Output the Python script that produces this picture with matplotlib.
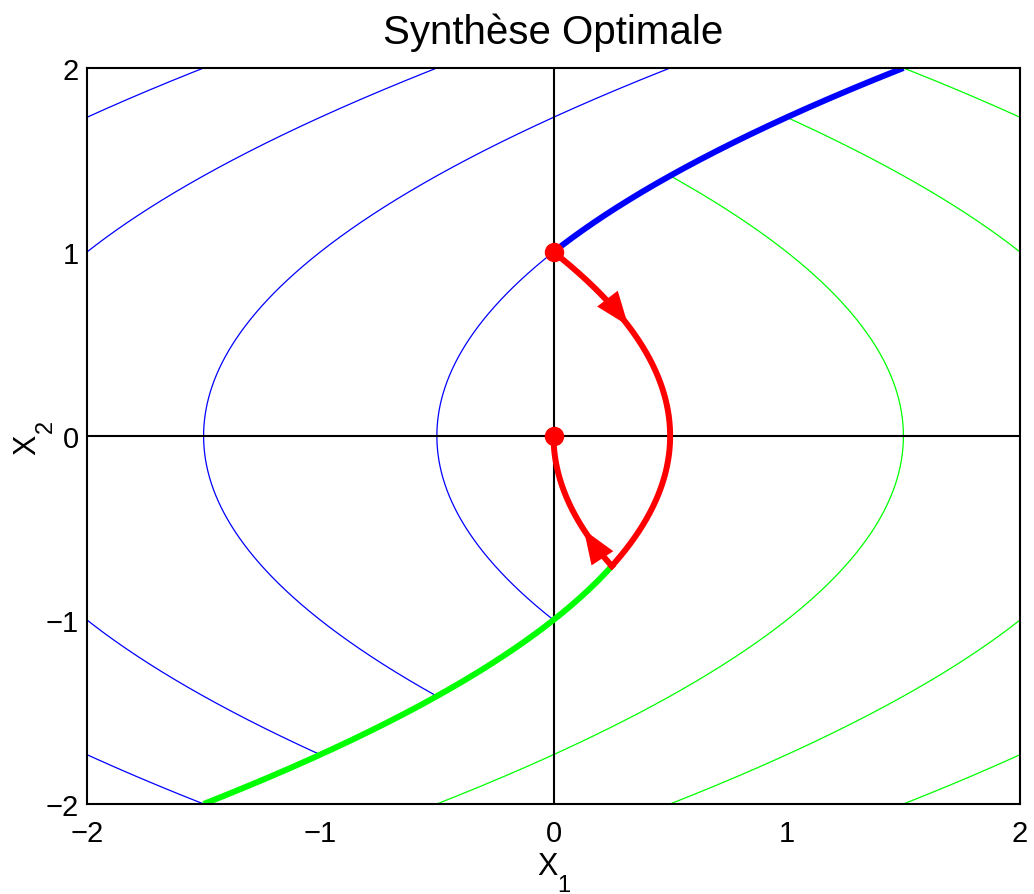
import numpy as np
import matplotlib
matplotlib.use("Agg")
import matplotlib.pyplot as plt
from matplotlib.patches import Polygon

plt.rcParams['font.family'] = ['Liberation Sans', 'DejaVu Sans']

# Parabola constants for thin trajectories
blue_c = [-3.5, -2.5, -1.5, -0.5]     # u=+1 : x1 = c + x2^2/2
green_c = [0.5, 1.5, 2.5, 3.5]        # u=-1 : x1 = c - x2^2/2
# Switching curve pieces
blue_switch_c, blue_switch_x2 = -0.5, (1.0, 2.0)
green_switch_c, green_switch_x2 = 0.5, (-2.0, -0.7071)
# Optimal trajectory: green arc then blue arc
red_arc1_c, red_arc1_x2 = 0.5, (1.0, -0.7071)
red_arc2_c, red_arc2_x2 = 0.0, (-0.7071, 0.0)
red_points_x1 = [0.0, 0.0]
red_points_x2 = [1.0, 0.0]
arrow_tip_x2 = [0.60, -0.51]
arrow_back_x2 = [0.61, -0.52]   # a point just behind the tip (gives direction)
ticks = [-2, -1, 0, 1, 2]

W, H = 1034, 895


def switch(x2):
    s = np.zeros_like(x2)
    s = np.where(x2 >= 1, -0.5 + x2**2 / 2, s)
    s = np.where(x2 <= -1, 0.5 - x2**2 / 2, s)
    return s


fig = plt.figure(figsize=(W / 100, H / 100), dpi=100)
ax = fig.add_axes([0.0841, 0.1006, 0.9024, 0.8223])
ax.set_xlim(-2, 2)
ax.set_ylim(-2, 2)

x2 = np.linspace(-2, 2, 2001)
sw = switch(x2)
for c in blue_c:
    x1 = c + x2**2 / 2
    m = x1 <= sw + 1e-9
    ax.plot(np.where(m, x1, np.nan), x2, color=(0, 0, 1), lw=0.9)
for c in green_c:
    x1 = c - x2**2 / 2
    m = x1 >= sw - 1e-9
    ax.plot(np.where(m, x1, np.nan), x2, color=(0, 1, 0), lw=0.9)

ax.axhline(0, color='k', lw=1.5)
ax.axvline(0, color='k', lw=1.5)

thick = 4.3
t = np.linspace(*blue_switch_x2, 300)
ax.plot(blue_switch_c + t**2 / 2, t, color=(0, 0, 1), lw=thick, solid_capstyle='butt')
t = np.linspace(*green_switch_x2, 300)
ax.plot(green_switch_c - t**2 / 2, t, color=(0, 1, 0), lw=thick, solid_capstyle='butt')

t = np.linspace(*red_arc1_x2, 400)
ax.plot(red_arc1_c - t**2 / 2, t, color=(1, 0, 0), lw=thick)
t = np.linspace(*red_arc2_x2, 300)
ax.plot(red_arc2_c + t**2 / 2, t, color=(1, 0, 0), lw=thick)

# arrowheads along the trajectory (drawn in display space, oriented by the tangent)
arcs = [lambda y: red_arc1_c - y**2 / 2, lambda y: red_arc2_c + y**2 / 2]
head_len, head_half = 34.0, 13.0
for f, tip, back in zip(arcs, arrow_tip_x2, arrow_back_x2):
    p_tip = ax.transData.transform((f(tip), tip))
    p_back = ax.transData.transform((f(back), back))
    d = p_tip - p_back
    d = d / np.hypot(*d)
    n = np.array([-d[1], d[0]])
    base = p_tip - head_len * d
    pts = np.array([p_tip, base + head_half * n, base - head_half * n])
    ax.add_patch(Polygon(pts, closed=True, facecolor=(1, 0, 0), edgecolor='none',
                         transform=None, zorder=4))

ax.plot(red_points_x1, red_points_x2, 'o', color=(1, 0, 0), ms=13, zorder=5)

ax.set_xticks(ticks)
ax.set_yticks(ticks)
lbl = ['\u2212' + str(abs(v)) if v < 0 else str(v) for v in ticks]
ax.set_xticklabels(lbl)
ax.set_yticklabels(lbl)
ax.tick_params(direction='in', length=0, labelsize=21)
ax.tick_params(axis='x', pad=11)
ax.tick_params(axis='y', pad=6)
for s in ax.spines.values():
    s.set_linewidth(1.5)
ax.set_title('Synthèse Optimale', fontsize=29, pad=18)

# axis labels with deep subscripts
fig.text(547 / W, 1 - 875 / H, 'X', fontsize=22, ha='center', va='baseline')
fig.text(564 / W, 1 - 892 / H, '1', fontsize=17, ha='center', va='baseline')
fig.text(35 / W, 1 - 445 / H, 'X', fontsize=22, ha='center', va='baseline',
         rotation=90, rotation_mode='anchor')
fig.text(52 / W, 1 - 426 / H, '2', fontsize=17, ha='center', va='baseline',
         rotation=90, rotation_mode='anchor')

fig.savefig('out.png', dpi=100)
